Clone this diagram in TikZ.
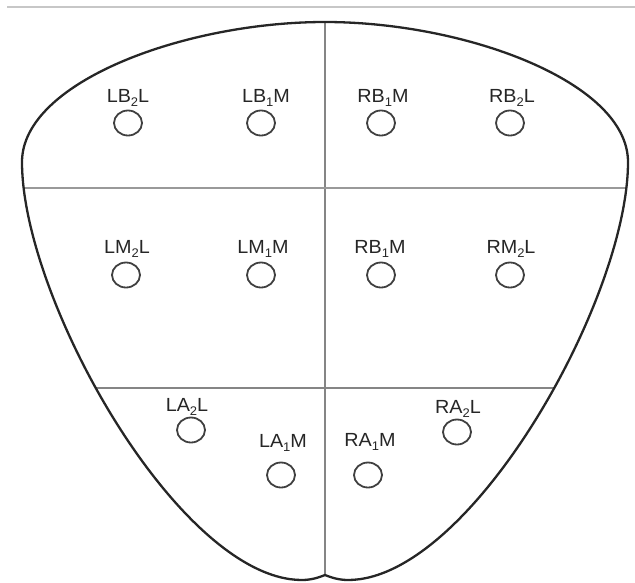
\documentclass[tikz,border=0pt]{standalone}
\usepackage{fontspec}
\usepackage{graphicx}
\setmainfont{Liberation Sans}
\usetikzlibrary{shapes.geometric}
\begin{document}
\begin{tikzpicture}[x=1pt,y=-1pt,
  outline/.style={draw=black!85,line width=2.3pt},
  dividerthick/.style={draw=black!40,line width=2.4pt},
  divider/.style={draw=black!48,line width=1.4pt},
  topline/.style={draw=black!22,line width=2pt},
  probe/.style={ellipse,draw=black!75,line width=1.8pt,minimum width=28pt,minimum height=25pt,inner sep=0pt},
  lbl/.style={anchor=base,inner sep=0pt,text=black!85,font=\fontsize{19}{21}\selectfont}
]
\useasboundingbox (0,0) rectangle (635,582);
\def\outlinepath{(325,22) .. controls (465,22) and (628,82) .. (628,162)
  .. controls (628,300) and (470,580) .. (348,580)
  .. controls (338,580) and (330,577) .. (325,575)
  .. controls (320,577) and (312,580) .. (302,580)
  .. controls (180,580) and (22,300) .. (22,162)
  .. controls (22,82) and (185,22) .. (325,22) -- cycle}
% top rule
\coordinate (tl) at (7,7);
\coordinate (tr) at (635,7);
\draw[topline] (tl) -- (tr);
% dividers, clipped to the outline
\coordinate (vtop) at (325,10);
\coordinate (vbot) at (325,590);
\coordinate (h1l) at (0,188);
\coordinate (h1r) at (635,188);
\coordinate (h2l) at (0,388);
\coordinate (h2r) at (635,388);
\begin{scope}
  \clip \outlinepath;
  \draw[divider] (vtop) -- (vbot);
  \draw[dividerthick] (h1l) -- (h1r);
  \draw[divider] (h2l) -- (h2r);
\end{scope}
\draw[outline] \outlinepath;
% probes
\newcommand\lb[1]{\scalebox{1.04}[1]{#1}}
\newcommand\sbs[1]{\raisebox{-4pt}{\fontsize{12.5}{12.5}\selectfont #1}}
\node[probe] (lb2l) at (128,123) {};
\node[probe] (lb1m) at (261,123) {};
\node[probe] (rb1m) at (381,123) {};
\node[probe] (rb2l) at (510,123) {};
\node[probe] (lm2l) at (126,275) {};
\node[probe] (lm1m) at (261,275) {};
\node[probe] (rm1m) at (381,275) {};
\node[probe] (rm2l) at (510,275) {};
\node[probe] (la2l) at (191,430) {};
\node[probe] (la1m) at (281,475) {};
\node[probe] (ra1m) at (368,475) {};
\node[probe] (ra2l) at (457,432) {};
% labels
\node[lbl] (tlb2l) at (128,102) {\lb{LB\sbs{2}L}};
\node[lbl] (tlb1m) at (266,102) {\lb{LB\sbs{1}M}};
\node[lbl] (trb1m) at (383,102) {\lb{RB\sbs{1}M}};
\node[lbl] (trb2l) at (512,102) {\lb{RB\sbs{2}L}};
\node[lbl] (tlm2l) at (127,253) {\lb{LM\sbs{2}L}};
\node[lbl] (tlm1m) at (263,253) {\lb{LM\sbs{1}M}};
\node[lbl] (trm1m) at (380,253) {\lb{RB\sbs{1}M}};
\node[lbl] (trm2l) at (511,253) {\lb{RM\sbs{2}L}};
\node[lbl] (tla2l) at (187,411) {\lb{LA\sbs{2}L}};
\node[lbl] (tla1m) at (283,447) {\lb{LA\sbs{1}M}};
\node[lbl] (tra1m) at (370,446) {\lb{RA\sbs{1}M}};
\node[lbl] (tra2l) at (458,413) {\lb{RA\sbs{2}L}};
\end{tikzpicture}
\end{document}
